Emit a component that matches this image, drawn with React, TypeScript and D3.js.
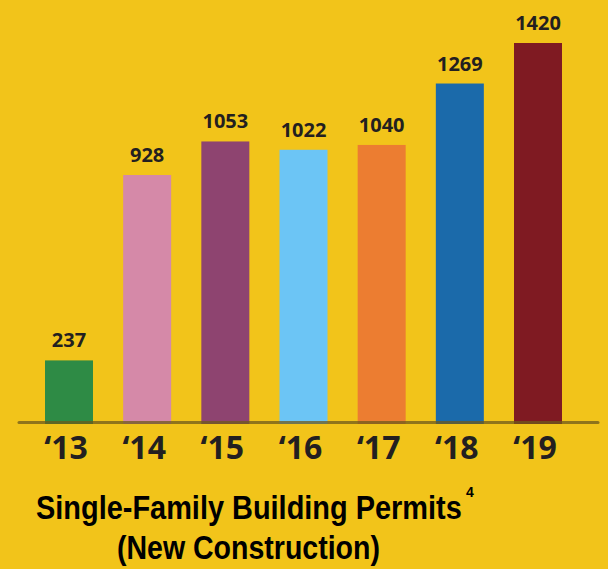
import React, { useLayoutEffect, useRef, useState } from "react";
import * as d3 from "d3";

const categories = ["\u201813", "\u201814", "\u201815", "\u201816", "\u201817", "\u201818", "\u201819"];
const values = [237, 928, 1053, 1022, 1040, 1269, 1420];
const colors = ["#2E8B45", "#D589A8", "#8E4470", "#6CC5F5", "#EC7D31", "#1B6AAA", "#7F1A22"];
const titleLine1 = "Single-Family Building Permits";
const titleSup = "4";
const titleLine2 = "(New Construction)";

const W = 608;
const H = 569;
const BG = "#F2C41A";
const TEXT = "#231F20";
const FONT = "'Open Sans', 'Noto Sans', sans-serif";
const TITLE_FONT = "'Liberation Sans', Arial, sans-serif";

function FitText(props: { x: number; y: number; width: number; size: number; children: string }) {
  const ref = useRef<SVGTextElement>(null);
  const [sx, setSx] = useState(1);
  useLayoutEffect(() => {
    if (ref.current) {
      const len = ref.current.getComputedTextLength();
      if (len > 0) setSx(props.width / len);
    }
  }, [props.width, props.children]);
  return (
    <text
      ref={ref}
      transform={`translate(${props.x},${props.y}) scale(${sx},1)`}
      fontFamily={TITLE_FONT}
      fontWeight={700}
      fontSize={props.size}
      fill="#000"
    >
      {props.children}
    </text>
  );
}

export default function App() {
  const x = d3.scaleBand<string>().domain(categories).range([45, 562]).paddingInner(0.386).paddingOuter(0);
  const y = d3.scaleLinear().domain([0, 1420]).range([424, 43]);
  const bw = x.bandwidth();

  return (
    <svg width={W} height={H} style={{ position: "absolute", left: 0, top: 0, display: "block" }}>
      <rect x={0} y={0} width={W} height={H} fill={BG} />
      {categories.map((c, i) => (
        <g key={c}>
          <rect x={x(c)} y={y(values[i])} width={bw} height={y(0) - y(values[i])} fill={colors[i]} />
          <text
            x={(x(c) as number) + bw / 2}
            y={y(values[i]) - 13}
            textAnchor="middle"
            fontFamily={FONT}
            fontWeight={700}
            fontSize={20}
            fill={TEXT}
          >
            {values[i]}
          </text>
          <text
            x={(x(c) as number) + bw / 2 - 3}
            y={459}
            textAnchor="middle"
            fontFamily={FONT}
            fontWeight={700}
            fontSize={32}
            fill={TEXT}
          >
            {c}
          </text>
        </g>
      ))}
      <line x1={19} x2={598} y1={422.5} y2={422.5} stroke="#6e5a1c" strokeOpacity={0.75} strokeWidth={3} strokeLinecap="round" />
      <FitText x={36} y={519} width={426} size={33}>
        {titleLine1}
      </FitText>
      <text x={466} y={497} fontFamily={TITLE_FONT} fontWeight={700} fontSize={14} fill="#000">
        {titleSup}
      </text>
      <FitText x={117} y={559} width={263} size={33}>
        {titleLine2}
      </FitText>
    </svg>
  );
}
